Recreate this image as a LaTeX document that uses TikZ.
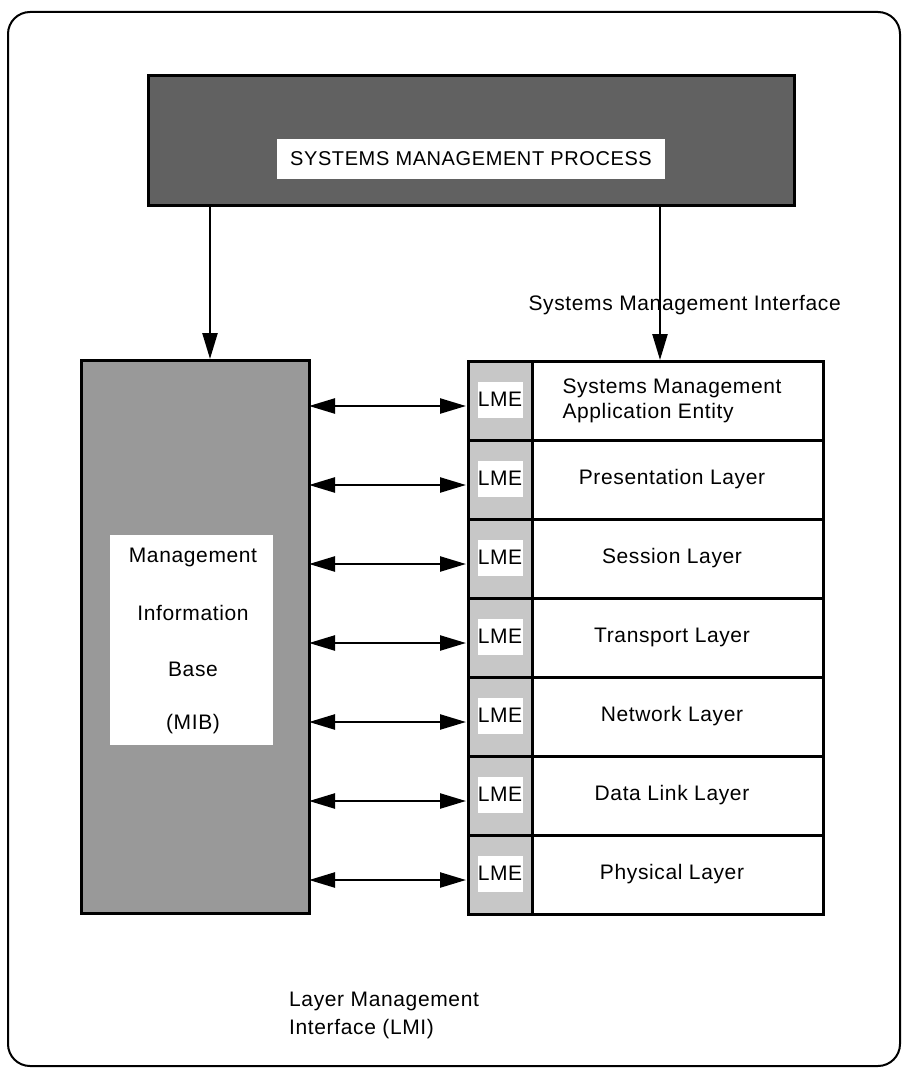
\documentclass[tikz,border=0pt]{standalone}
\usepackage{fontspec}
\setmainfont{Liberation Sans}[LetterSpace=3]
\usetikzlibrary{arrows.meta}
\begin{document}
\begin{tikzpicture}[x=1pt,y=-1pt,
  txt/.style={font=\fontsize{21}{25}\selectfont},
  lbl/.style={fill=white,inner sep=0pt,font=\fontsize{21}{25}\selectfont},
  arr/.style={-{Triangle[length=26pt,width=15pt]},line width=2.4pt},
  darr/.style={{Triangle[length=26pt,width=15pt]}-{Triangle[length=26pt,width=15pt]},line width=2.4pt},
  rowbox/.style={draw,line width=2.6pt,minimum width=291pt,minimum height=79pt,inner sep=0pt,anchor=north west},
  lmebox/.style={draw,line width=2.6pt,fill=black!22,minimum width=64pt,minimum height=79pt,inner sep=0pt,anchor=north west}
]
\useasboundingbox (0,0) rectangle (903,1070);
\draw[line width=2pt,rounded corners=22pt] (8,12) rectangle (900,1066);
% top process box
\node[draw,line width=2.6pt,fill=black!62,minimum width=646pt,minimum height=130pt,inner sep=0pt,anchor=north west] (smp) at (147,74) {};
\node[lbl,minimum width=388pt,minimum height=40pt,font=\fontsize{20}{24}\selectfont] (smpl) at (471,159) {SYSTEMS MANAGEMENT PROCESS};
% MIB
\node[draw,line width=2.6pt,fill=black!40,minimum width=228pt,minimum height=553pt,inner sep=0pt,anchor=north west] (mib) at (80,359) {};
\node[fill=white,minimum width=163pt,minimum height=210pt,inner sep=0pt] (mibl) at (191.5,640) {};
\node[txt] (m1) at (193,557) {Management};
\node[txt] (m2) at (193,613) {Information};
\node[txt] (m3) at (193,669) {Base};
\node[txt] (m4) at (193,724) {(MIB)};
% stack
\foreach \i/\t in {1/{Systems Management\\Application Entity},2/{Presentation Layer},3/{Session Layer},4/{Transport Layer},5/{Network Layer},6/{Data Link Layer},7/{Physical Layer}}{
  \node[rowbox] (r\i) at (531,{360+79*(\i-1)}) {};
  \node[txt,align=left] (t\i) at (672,{360+79*(\i-1)+40.5}) {\t};
  \node[lmebox] (l\i) at (467,{360+79*(\i-1)}) {};
  \node[lbl,minimum width=45pt,minimum height=36pt] (e\i) at (500,{360+79*(\i-1)+39.5}) {LME};
  \draw[darr] (309,{360+79*(\i-1)+46}) coordinate (a\i) -- (466,{360+79*(\i-1)+46}) coordinate (b\i);
}
% vertical arrows
\draw[arr] (210,204) -- (mib.north -| 210,0);
\draw[arr] (660,204) -- (r1.north -| 660,0);
\node[txt,anchor=west] (smi) at (525,305) {Systems Management Interface};
\node[txt,anchor=north west,align=left,inner sep=0pt] (lmi) at (289,992) {Layer Management\\[3pt]Interface (LMI)};
\end{tikzpicture}
\end{document}
